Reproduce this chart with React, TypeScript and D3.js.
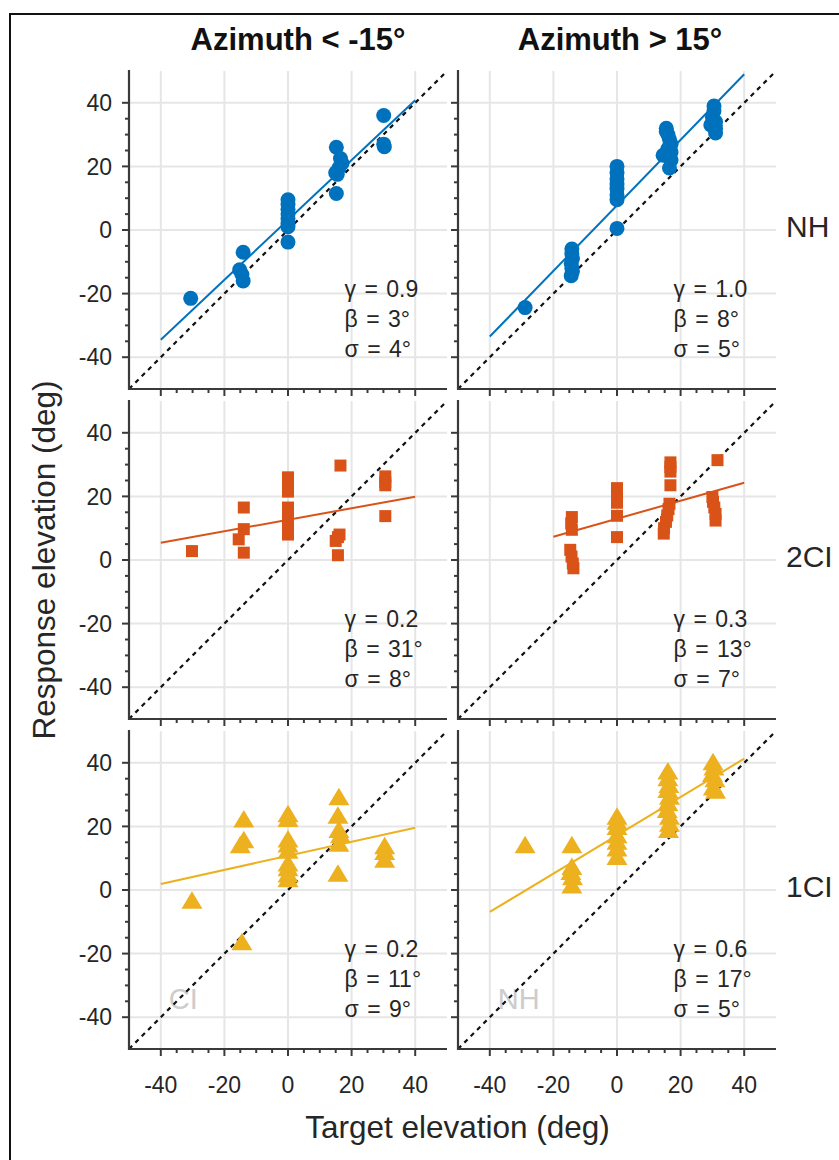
import React from "react";
import * as d3 from "d3";

// ---------- data ----------
const columnTitles = ["Azimuth < -15°", "Azimuth > 15°"];
const rowLabels = ["NH", "2CI", "1CI"];
const tickValues = [-40, -20, 0, 20, 40];
const minorTickValues = [-35, -30, -25, -15, -10, -5, 5, 10, 15, 25, 30, 35];

const nhLeft: [number, number][] = [
  [-30.6, -21.5],
  [-14.1, -7], [-15.2, -12.5], [-14.5, -14], [-14.1, -16],
  [0, 9.5], [0, 8], [0, 6.5], [0, 5], [0, 3.5], [0, 2], [0, 1], [0, -3.8],
  [15.2, 26], [16.5, 22.5], [17, 21], [16, 19.5], [15, 18], [15.5, 17.5], [15.2, 11.5],
  [30.1, 36], [30.1, 27], [30.3, 26.2],
];
const nhRight: [number, number][] = [
  [-28.9, -24.4],
  [-14.2, -6], [-14.2, -7.5], [-14, -9], [-14.4, -10.5], [-14.2, -12], [-14, -13], [-14.4, -14.4],
  [0, 0.5],
  [0, 20], [0, 18], [0, 16], [0, 14.5], [0, 13], [0, 11], [0, 9.5],
  [15.5, 32], [15.5, 31], [16, 30], [16.5, 28.5], [17, 27], [16, 25.5], [17, 24.5], [14.5, 23.5], [17, 22], [16.5, 19.5],
  [30.5, 39], [30.5, 37.5], [30, 35.5], [31, 34], [29.5, 33], [31, 32], [31, 30.5],
];
const ci2Left: [number, number][] = [
  [-30.2, 2.8],
  [-13.9, 16.5], [-13.9, 9.7], [-15.5, 6.5], [-13.9, 2.3],
  [0, 26], [0, 24], [0, 21.5], [0, 16.5], [0, 14], [0, 12], [0, 10], [0, 8],
  [16.5, 29.7], [16.2, 8], [15.7, 7.2], [15, 6], [15.7, 1.5],
  [30.6, 26.3], [30.6, 24.5], [30.6, 23.5], [30.6, 13.8],
];
const ci2Right: [number, number][] = [
  [-14.2, 13.5], [-14.4, 11.5], [-14.2, 9.5],
  [-14.7, 3.2], [-14.3, 1.1], [-13.9, -1.1], [-13.7, -2.6],
  [0, 22.6], [0, 21], [0, 19.5], [0, 18], [0, 13.9], [0, 7.2],
  [16.8, 30.7], [16.8, 29.2], [16.8, 27.8], [16.8, 23.5],
  [16.5, 17.7], [16.2, 16], [15.8, 14], [15.4, 12], [14.8, 10], [14.7, 8.3],
  [31.6, 31.4],
  [30, 19.8], [30.2, 18.3], [30.6, 16.5], [31, 14.5], [31, 12.4],
];
const ci1Left: [number, number][] = [
  [-30.2, -3.2],
  [-14.5, -16.3],
  [-13.9, 22.3], [-13.9, 15.8], [-15, 14.2],
  [0, 24], [0, 22.5], [0, 16], [0, 14.5], [0, 12.5], [0, 8.5], [0, 7], [0, 5], [0, 3.5],
  [16, 29.3], [15.7, 23.5], [16, 19], [16.5, 17.4], [16, 14.7], [15.7, 5.3],
  [30.4, 13.9], [30.4, 12.1], [30.4, 9.7],
];
const ci1Right: [number, number][] = [
  [-28.9, 14.2],
  [-14.2, 14.2], [-14.2, 7.4], [-14.5, 5.8], [-14, 4.2], [-14.2, 1.6],
  [0, 23.2], [0, 21.6], [0, 20], [0, 17.4], [0, 15.3], [0, 13.2], [0, 10.5],
  [16, 37.4], [16, 35.3], [16.3, 33.2], [16, 31.6], [16.5, 29.5], [16, 27.4], [15.8, 25.3], [16.5, 23.2], [16.5, 21], [16.2, 19],
  [30.2, 40.3], [30.5, 38.7], [30, 36.6], [30.8, 35], [30.3, 32.4], [31, 31.4],
];

// fit lines: [x1, y1, x2, y2]
const fitLines: [number, number, number, number][] = [
  [-40, -34.5, 40, 40.8],
  [-40, -33.5, 40, 49],
  [-40, 5.4, 40, 19.9],
  [-20, 7.3, 40, 24.3],
  [-40, 1.9, 40, 19.6],
  [-40, -6.9, 40, 41.3],
];
const gammaValues = ["0.9", "1.0", "0.2", "0.3", "0.2", "0.6"];
const betaValues = ["3°", "8°", "31°", "13°", "11°", "17°"];
const sigmaValues = ["4°", "5°", "8°", "7°", "9°", "5°"];
const watermarks = ["", "", "", "", "CI", "NH"];

const panelData = [nhLeft, nhRight, ci2Left, ci2Right, ci1Left, ci1Right];
const rowColors = ["#0072BD", "#D95319", "#EDB120"];
const rowMarkers = ["circle", "square", "triangle"];

// ---------- layout ----------
const W = 839;
const H = 1160;
const panelSize = 318;
const colX = [129, 458];
const rowY = [71, 401, 731];
const FONT = "'Liberation Sans', Arial, Helvetica, sans-serif";
const textColor = "#262626";
const axisColor = "#3a3a3a";
const gridColor = "#e6e6e6";

function Marker({ type, x, y, color }: { type: string; x: number; y: number; color: string }) {
  if (type === "circle") return <circle cx={x} cy={y} r={7.5} fill={color} />;
  if (type === "square") return <rect x={x - 6} y={y - 6} width={12} height={12} fill={color} />;
  return <path d={`M${x},${y - 9}L${x + 10.5},${y + 8.5}L${x - 10.5},${y + 8.5}Z`} fill={color} />;
}

function Panel({ row, col }: { row: number; col: number }) {
  const idx = row * 2 + col;
  const x0 = colX[col];
  const y0 = rowY[row];
  const xs = d3.scaleLinear().domain([-50, 50]).range([x0, x0 + panelSize]);
  const ys = d3.scaleLinear().domain([-50, 50]).range([y0 + panelSize, y0]);
  const color = rowColors[row];
  const fl = fitLines[idx];
  const line = d3.line<[number, number]>().x((d) => xs(d[0])).y((d) => ys(d[1]));
  const isBottom = row === 2;
  const isLeft = col === 0;
  return (
    <g>
      {/* grid */}
      {tickValues.map((t) => (
        <line key={"gx" + t} x1={xs(t)} x2={xs(t)} y1={y0} y2={y0 + panelSize} stroke={gridColor} strokeWidth={2} />
      ))}
      {tickValues.map((t) => (
        <line key={"gy" + t} x1={x0} x2={x0 + panelSize} y1={ys(t)} y2={ys(t)} stroke={gridColor} strokeWidth={2} />
      ))}
      {/* watermark */}
      {watermarks[idx] && (
        <text x={xs(-37.5)} y={ys(-37.5)} fontSize={29} fill="#cccccc" fontFamily={FONT}>
          {watermarks[idx]}
        </text>
      )}
      {/* identity line */}
      <path
        d={line([[-50, -50], [50, 50]]) || ""}
        stroke="#111"
        strokeWidth={2.2}
        strokeDasharray="4.5,4.5"
        fill="none"
      />
      {/* points */}
      {panelData[idx].map((d, i) => (
        <Marker key={i} type={rowMarkers[row]} x={xs(d[0])} y={ys(d[1])} color={color} />
      ))}
      {/* fit line */}
      <path d={line([[fl[0], fl[1]], [fl[2], fl[3]]]) || ""} stroke={color} strokeWidth={2} fill="none" />
      {/* stats */}
      {[
        "γ = " + gammaValues[idx],
        "β = " + betaValues[idx],
        "σ = " + sigmaValues[idx],
      ].map((s, i) => (
        <text
          key={"s" + i}
          x={xs(17.8)}
          y={y0 + 226 + i * 30}
          fontSize={23}
          fill={textColor}
          fontFamily={FONT}
          style={{ wordSpacing: "2px" }}
        >
          {s}
        </text>
      ))}
      {/* axes */}
      <line x1={x0} x2={x0} y1={y0 - 1} y2={y0 + panelSize + 1} stroke={axisColor} strokeWidth={2.2} />
      <line x1={x0 - 1} x2={x0 + panelSize} y1={y0 + panelSize} y2={y0 + panelSize} stroke={axisColor} strokeWidth={2.2} />
      {tickValues.map((t) => (
        <line key={"ty" + t} x1={x0 - 7} x2={x0} y1={ys(t)} y2={ys(t)} stroke={axisColor} strokeWidth={2} />
      ))}
      {minorTickValues.map((t) => (
        <line key={"mty" + t} x1={x0 - 4} x2={x0} y1={ys(t)} y2={ys(t)} stroke={axisColor} strokeWidth={2} />
      ))}
      {tickValues.map((t) => (
        <line key={"tx" + t} x1={xs(t)} x2={xs(t)} y1={y0 + panelSize} y2={y0 + panelSize + 7} stroke={axisColor} strokeWidth={2} />
      ))}
      {minorTickValues.map((t) => (
        <line key={"mtx" + t} x1={xs(t)} x2={xs(t)} y1={y0 + panelSize} y2={y0 + panelSize + 4} stroke={axisColor} strokeWidth={2} />
      ))}
      {isLeft &&
        tickValues.map((t) => (
          <text
            key={"ly" + t}
            x={x0 - 17}
            y={ys(t)}
            dy="0.36em"
            textAnchor="end"
            fontSize={23}
            fill={textColor}
            fontFamily={FONT}
          >
            {t}
          </text>
        ))}
      {isBottom &&
        tickValues.map((t) => (
          <text
            key={"lx" + t}
            x={xs(t)}
            y={1093}
            textAnchor="middle"
            fontSize={23}
            fill={textColor}
            fontFamily={FONT}
          >
            {t}
          </text>
        ))}
    </g>
  );
}

export default function App() {
  return (
    <svg
      width={W}
      height={H}
      viewBox={`0 0 ${W} ${H}`}
      style={{ position: "absolute", left: 0, top: 0, background: "#fff" }}
    >
      <rect x={0} y={0} width={W} height={H} fill="#fff" />
      <rect x={10} y={14} width={W + 20} height={H + 20} fill="none" stroke="#111" strokeWidth={2} />
      {[0, 1, 2].map((r) => [0, 1].map((c) => <Panel key={r + "-" + c} row={r} col={c} />))}
      {columnTitles.map((t, i) => (
        <text
          key={t}
          x={colX[i] + panelSize / 2 + (i === 0 ? 10 : 3)}
          y={50}
          textAnchor="middle"
          fontSize={31}
          fontWeight="bold"
          fill="#111"
          fontFamily={FONT}
        >
          {t}
        </text>
      ))}
      {rowLabels.map((t, i) => (
        <text
          key={t}
          x={786}
          y={rowY[i] + panelSize / 2 - 4}
          dy="0.36em"
          fontSize={30}
          fill={textColor}
          fontFamily={FONT}
        >
          {t}
        </text>
      ))}
      <text
        x={(colX[0] + colX[1] + panelSize) / 2 + 5}
        y={1138}
        textAnchor="middle"
        fontSize={31.5}
        fill={textColor}
        fontFamily={FONT}
      >
        Target elevation (deg)
      </text>
      <text
        transform={`translate(55, ${(rowY[0] + rowY[2] + panelSize) / 2}) rotate(-90)`}
        textAnchor="middle"
        fontSize={31.5}
        fill={textColor}
        fontFamily={FONT}
      >
        Response elevation (deg)
      </text>
    </svg>
  );
}
